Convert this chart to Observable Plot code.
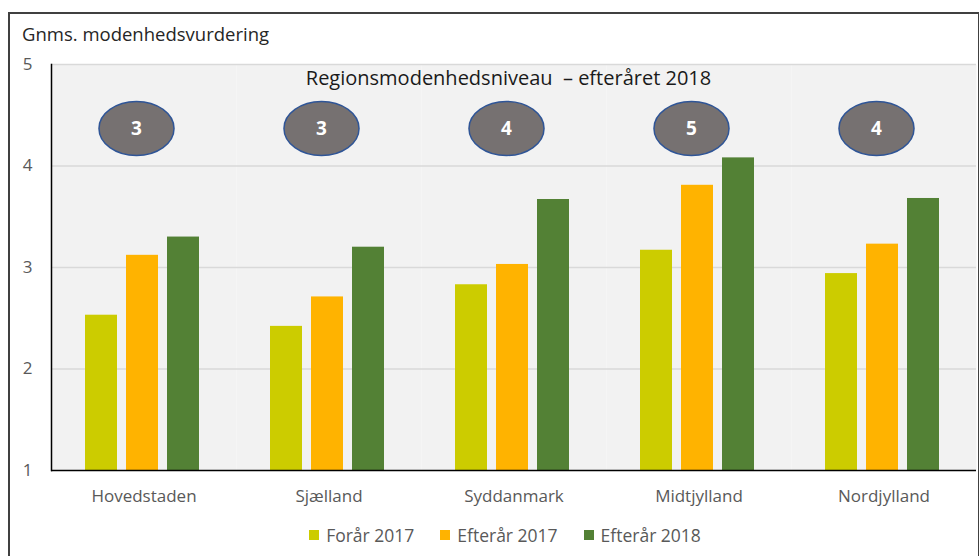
<!DOCTYPE html>
<html>
<head>
<meta charset="utf-8">
<script src="https://cdn.jsdelivr.net/npm/d3@7"></script>
<script src="https://cdn.jsdelivr.net/npm/@observablehq/plot@0.6"></script>
<style>
  html, body { margin: 0; padding: 0; background: #fff; }
  #wrap { position: relative; width: 979px; height: 556px; overflow: hidden; font-family: "Open Sans", sans-serif; }
  #box { position: absolute; left: 8px; top: 12px; width: 972px; height: 600px; border: 2px solid #404040; box-sizing: border-box; }
  #ylabel { position: absolute; left: 22px; top: 21px; font-size: 18.5px; color: #262626; white-space: nowrap; }
  #chart { position: absolute; left: 0; top: 0; }
  #legend { position: absolute; top: 523px; left: 0; width: 1010px; display: flex; justify-content: center; gap: 26px; font-size: 17.5px; color: #595959; }
  #legend .item { display: flex; align-items: center; gap: 7px; }
  #legend .sw { width: 10px; height: 10px; display: inline-block; }
</style>
</head>
<body>
<div id="wrap">
  <div id="box"></div>
  <div id="chart"></div>
  <div id="ylabel"></div>
  <div id="legend"></div>
</div>
<script>
const regions = ["Hovedstaden", "Sjælland", "Syddanmark", "Midtjylland", "Nordjylland"];
const series = ["Forår 2017", "Efterår 2017", "Efterår 2018"];
const forar2017 = [2.53, 2.42, 2.83, 3.17, 2.94];
const efterar2017 = [3.12, 2.71, 3.03, 3.81, 3.23];
const efterar2018 = [3.30, 3.20, 3.67, 4.08, 3.68];
const levels = [3, 3, 4, 5, 4];
const colors = ["#CCCC00", "#FFB300", "#538135"];
const yTicks = [1, 2, 3, 4, 5];
const gridTicks = [2, 3, 4, 5];
const yAxisTitle = "Gnms. modenhedsvurdering";
const innerTitle = "Regionsmodenhedsniveau\u00a0 – efteråret 2018";
const levelY = 4.37;
const innerTitleY = 4.86;

const valuesBySeries = [forar2017, efterar2017, efterar2018];
const bars = [];
regions.forEach((r, i) => series.forEach((s, j) => bars.push({region: r, series: s, value: valuesBySeries[j][i]})));
const levelRows = regions.map((r, i) => ({region: r, mid: series[1], level: levels[i]}));
const titleRow = [{region: regions[2], mid: series[1], text: innerTitle}];

const ellipse = {
  draw(ctx, size) {
    const r = Math.sqrt(size / Math.PI), rx = r * 1.39, ry = r, k = 0.5523;
    ctx.moveTo(rx, 0);
    ctx.bezierCurveTo(rx, k * ry, k * rx, ry, 0, ry);
    ctx.bezierCurveTo(-k * rx, ry, -rx, k * ry, -rx, 0);
    ctx.bezierCurveTo(-rx, -k * ry, -k * rx, -ry, 0, -ry);
    ctx.bezierCurveTo(k * rx, -ry, rx, -k * ry, rx, 0);
    ctx.closePath();
  }
};

const hasAxisMarks = typeof Plot.axisY === "function";
const leftLine = hasAxisMarks
  ? Plot.frame({anchor: "left", facetAnchor: "left", stroke: "#000", strokeWidth: 1.5})
  : null;

const chart = Plot.plot({
  width: 979,
  height: 510,
  marginTop: 64,
  marginBottom: 40,
  marginLeft: 51,
  marginRight: 3,
  style: {fontFamily: "Open Sans, sans-serif", fontSize: "17px", color: "#595959", background: "transparent", overflow: "visible"},
  facet: {data: bars, x: "region"},
  fx: {domain: regions, padding: 0, axis: "bottom", tickSize: 0, tickPadding: 19, label: null},
  x: {domain: series, paddingInner: 0.22, paddingOuter: 0.85, align: 0.48, axis: null},
  y: {domain: [1, 5], ticks: yTicks, tickSize: 0, tickPadding: 19, label: null, line: !hasAxisMarks, tickFormat: d3.format("d")},
  color: {domain: series, range: colors},
  marks: [
    Plot.frame({fill: "#F2F2F2", stroke: null}),
    Plot.ruleY(gridTicks, {stroke: "#D9D9D9", strokeWidth: 1.4}),
    Plot.barY(bars, {fx: "region", x: "series", y1: 1, y2: "value", fill: "series"}),
    Plot.ruleY([1], {stroke: "#000", strokeWidth: 1.5}),
    leftLine,
    Plot.dot(levelRows, {fx: "region", x: "mid", y: levelY, r: 27, dx: -6, symbol: ellipse, fill: "#767171", stroke: "#2F5597", strokeWidth: 1.5}),
    Plot.text(levelRows, {fx: "region", x: "mid", y: levelY, dx: -6, text: d => String(d.level), fill: "#fff", fontWeight: "bold", fontSize: 19}),
    Plot.text(titleRow, {fx: "region", x: "mid", y: innerTitleY, dx: -4, text: "text", fill: "#1a1a1a", fontSize: 20})
  ]
});
document.getElementById("chart").appendChild(chart);
document.getElementById("ylabel").textContent = yAxisTitle;

const legend = document.getElementById("legend");
series.forEach((s, i) => {
  const item = document.createElement("div");
  item.className = "item";
  const sw = document.createElement("span");
  sw.className = "sw";
  sw.style.background = colors[i];
  const t = document.createElement("span");
  t.textContent = s;
  item.appendChild(sw);
  item.appendChild(t);
  legend.appendChild(item);
});
</script>
</body>
</html>
